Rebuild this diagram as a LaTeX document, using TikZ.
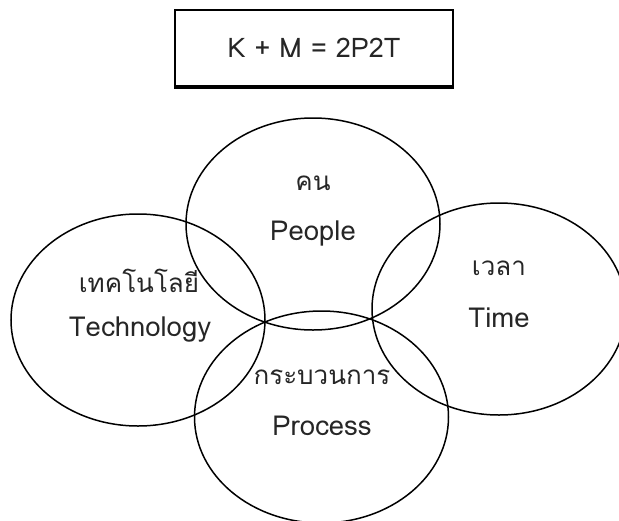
\documentclass[tikz,border=0pt]{standalone}
\usepackage{fontspec}
\newfontfamily\thaifont[Script=Thai]{Loma}
\usetikzlibrary{shapes.geometric}
\tikzset{
  circ/.style={ellipse, draw=black, line width=1.5pt, inner sep=0pt,
    minimum width=254pt, minimum height=212pt},
  lbl/.style={inner sep=0pt, text=black!85, font=\thaifont\fontsize{26}{30}\selectfont},
  lblen/.style={inner sep=0pt, text=black!85, font=\thaifont\fontsize{27.5}{32}\selectfont},
  eqbox/.style={draw=black, line width=1.5pt, minimum width=278pt, minimum height=76pt,
    inner sep=0pt, font=\thaifont\fontsize{27}{32}\selectfont, text=black!85}
}
\begin{document}
\begin{tikzpicture}[x=1pt,y=-1pt]
\useasboundingbox (0,0) rectangle (619,520);
\node[eqbox] (eq) at (314,48) {K + M = 2P2T};
\draw[line width=1.5pt] ([yshift=-1.2pt]eq.south west) -- ([yshift=-1.2pt]eq.south east);
\node[circ] (people) at (313,224) {};
\node[circ] (tech) at (138,320) {};
\node[circ] (time) at (499,309) {};
\node[circ] (process) at (321.5,417) {};
\node[lbl] (peopleth) at (313,183) {คน};
\node[lblen] (peopleen) at (313,233) {People};
\node[lbl] (techth) at (139,281) {เทคโนโลยี};
\node[lblen] (techen) at (140,330) {Technology};
\node[lbl] (timeth) at (499,268) {เวลา};
\node[lblen] (timeen) at (499,318) {Time};
\node[lbl] (procth) at (322,377) {กระบวนการ};
\node[lblen] (procen) at (322,426) {Process};
\end{tikzpicture}
\end{document}
